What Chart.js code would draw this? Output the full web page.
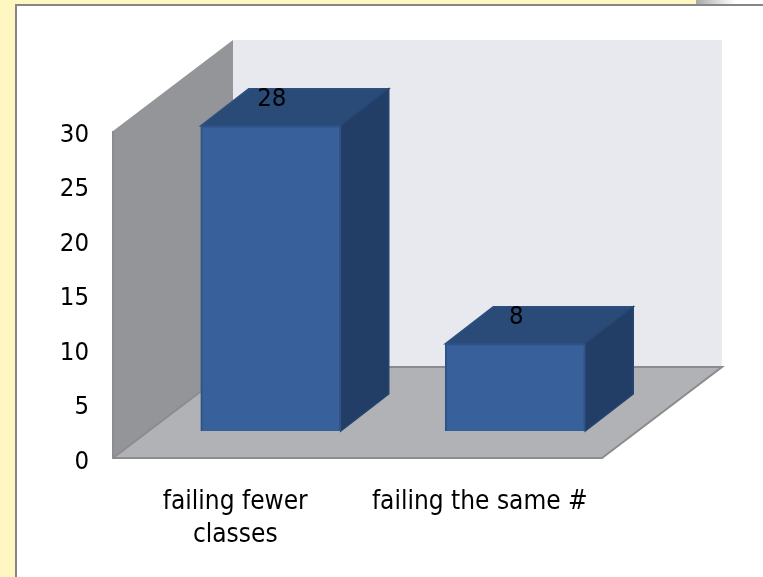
<!DOCTYPE html>
<html>
<head>
<meta charset="utf-8">
<title>Failing classes</title>
<script src="https://cdn.jsdelivr.net/npm/chart.js@4"></script>
<style>
  html, body { margin: 0; padding: 0; width: 763px; height: 577px; overflow: hidden; background: #fff7c2; }
  #panel { position: absolute; left: 15px; top: 4px; width: 748px; height: 573px; background: #fff;
    border-left: 2px solid #868686; border-top: 2px solid #868686; box-sizing: border-box; }
  #shadow { position: absolute; left: 696px; top: 0; width: 67px; height: 4px;
    background: linear-gradient(to right, #a8a8a4, #e6e6e6 40%, #fff 60%); }
  canvas { position: absolute; left: 0; top: 0; }
</style>
</head>
<body>
<div id="panel"></div>
<div id="shadow"></div>
<canvas id="failingChart" width="763" height="577"></canvas>
<script>
const categories = [["failing fewer", "classes"], "failing the same #"];
const students = [28, 8];
const yMax = 30;
const yStep = 5;

const FONT_FAMILY = '"DejaVu Sans Condensed", "DejaVu Sans", sans-serif';

// 3D look: depth of the whole box, how far bars sit back, and depth of a bar
const box = { dx: 120, dy: -91 };
const barShift = { dx: 35.5, dy: -27 };
const barDepth = { dx: 48, dy: -37 };

function poly(ctx, points, fill, stroke) {
  ctx.beginPath();
  points.forEach((p, i) => (i ? ctx.lineTo(p[0], p[1]) : ctx.moveTo(p[0], p[1])));
  ctx.closePath();
  ctx.fillStyle = fill;
  ctx.fill();
  if (stroke) {
    ctx.strokeStyle = stroke;
    ctx.lineWidth = 1.5;
    ctx.stroke();
  }
}

const box3d = {
  id: "box3d",
  beforeDraw(chart) {
    // value labels on the y axis sit a little low against their ticks
    chart.scales.y.getLabelItems().forEach((item) => { item.textOffset += 4; });
  },
  beforeDatasetsDraw(chart) {
    const { ctx, chartArea: a } = chart;
    const { left, right, top, bottom } = a;
    const { dx, dy } = box;
    // back wall, left wall, floor
    poly(ctx, [[left + dx, top + dy], [right + dx, top + dy], [right + dx, bottom + dy], [left + dx, bottom + dy]], "#e8e9ef");
    poly(ctx, [[left, top], [left + dx, top + dy], [left + dx, bottom + dy], [left, bottom]], "#939598");
    poly(ctx, [[left, bottom], [right, bottom], [right + dx, bottom + dy], [left + dx, bottom + dy]], "#b1b2b5");
    ctx.strokeStyle = "#8c8c8e";
    ctx.lineWidth = 2;
    ctx.beginPath();
    ctx.moveTo(left, top);
    ctx.lineTo(left, bottom);
    ctx.lineTo(right, bottom);
    ctx.lineTo(right + dx, bottom + dy);
    ctx.lineTo(left + dx, bottom + dy);
    ctx.lineTo(left, bottom);
    ctx.stroke();
  },
  beforeDatasetDraw(chart, args) {
    const { ctx } = chart;
    const { dx, dy } = barDepth;
    ctx.save();
    ctx.translate(barShift.dx, barShift.dy);
    chart.getDatasetMeta(args.index).data.forEach((bar) => {
      const p = bar.getProps(["x", "y", "base", "width"], true);
      const l = p.x - p.width / 2;
      const r = p.x + p.width / 2;
      // top and side faces hang off the bar element itself
      poly(ctx, [[l, p.y], [l + dx, p.y + dy], [r + dx, p.y + dy], [r, p.y]], "#2a4b78", "#2d5080");
      poly(ctx, [[r, p.y], [r + dx, p.y + dy], [r + dx, p.base + dy], [r, p.base]], "#223e66", "#25446f");
    });
  },
  afterDatasetDraw(chart) {
    chart.ctx.restore();
  },
  afterDatasetsDraw(chart) {
    const { ctx } = chart;
    ctx.save();
    ctx.fillStyle = "#000";
    ctx.font = "25.5px " + FONT_FAMILY;
    ctx.textAlign = "center";
    ctx.textBaseline = "middle";
    chart.getDatasetMeta(0).data.forEach((bar, i) => {
      ctx.fillText(String(students[i]), bar.x + barShift.dx + 1, bar.y + barShift.dy - 26);
    });
    ctx.restore();
  }
};

new Chart(document.getElementById("failingChart").getContext("2d"), {
  type: "bar",
  data: {
    labels: categories,
    datasets: [{
      data: students,
      backgroundColor: "#38619c",
      borderColor: "#2f5287",
      borderWidth: 2,
      barThickness: 140,
      clip: false
    }]
  },
  options: {
    responsive: false,
    animation: false,
    layout: { padding: { top: 131, right: 161, left: 0, bottom: 0 } },
    plugins: {
      legend: { display: false },
      tooltip: { enabled: false }
    },
    scales: {
      x: {
        grid: { display: false },
        border: { display: false },
        afterFit(scale) { scale.height = 119; },
        ticks: {
          color: "#000",
          padding: 20,
          maxRotation: 0,
          autoSkip: false,
          font: { family: FONT_FAMILY, size: 26, lineHeight: 1.27 }
        }
      },
      y: {
        min: 0,
        max: yMax,
        grid: { display: false },
        border: { display: false },
        afterFit(scale) { scale.width = 113; },
        ticks: {
          color: "#000",
          stepSize: yStep,
          padding: 16,
          font: { family: FONT_FAMILY, size: 25.5 }
        }
      }
    }
  },
  plugins: [box3d]
});
</script>
</body>
</html>
